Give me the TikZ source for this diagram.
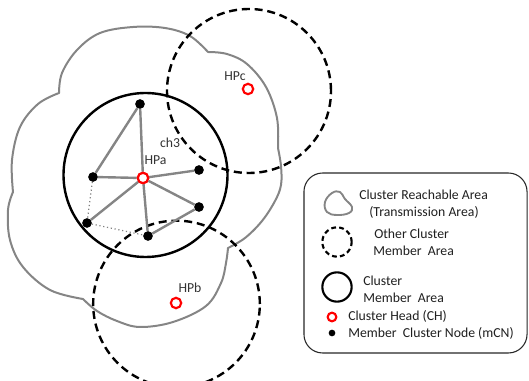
\documentclass[tikz,border=0pt]{standalone}
\usepackage{fontspec}
\setmainfont{Carlito}
\begin{document}
\begin{tikzpicture}[x=0.75pt,y=-0.75pt,
  cloudline/.style={draw=black!48, line width=1.5pt, line join=round, line cap=round},
  memberarea/.style={draw=black, line width=1.8pt, circle, inner sep=0pt},
  otherarea/.style={draw=black, line width=1.8pt, circle, inner sep=0pt, dash pattern=on 6pt off 3.6pt},
  headnode/.style={draw=red, line width=1.6pt, circle, fill=white, minimum size=7.8pt, inner sep=0pt},
  membernode/.style={fill=black, circle, minimum size=7pt, inner sep=0pt},
  link/.style={draw=black!48, line width=1.8pt},
  weaklink/.style={draw=black!50, line width=0.9pt, dotted},
  lbl/.style={text=black!80, font=\fontsize{10.3}{12}\selectfont, inner sep=0pt},
  legtext/.style={text=black!88, font=\fontsize{10.3}{12}\selectfont, inner sep=0pt}
]
\useasboundingbox (0,0) rectangle (529,381);
% cloud (cluster reachable area)
\draw[cloudline] plot[smooth,tension=0.6] coordinates {(59,93) (62,73) (77,50) (100,33) (133,27) (165,28) (190,36) (208,52)};
\draw[cloudline] plot[smooth,tension=0.6] coordinates {(208,52) (227,54) (247,64) (266,87) (277,118) (278,148)};
\draw[cloudline] plot[smooth,tension=0.6] coordinates {(278,148) (281,166) (281,185) (275,201) (262,221) (245,238) (228,248)};
\draw[cloudline] plot[smooth,tension=0.6] coordinates {(228,248) (226,263) (221,283) (206,306) (173,322) (140,327) (117,321) (97,311) (83,299)};
\draw[cloudline] plot[smooth,tension=0.6] coordinates {(83,299) (50,290) (23,267) (10,240) (8,210) (13,192)};
\draw[cloudline] plot[smooth,tension=0.6] coordinates {(13,192) (12,160) (20,127) (38,104) (59,93)};
% areas
\node[memberarea, minimum size=123pt] (cma) at (145.5,175) {};
\node[otherarea, minimum size=123pt] (oca) at (249,91) {};
\node[otherarea, minimum size=125pt] (ocb) at (176.5,304) {};
% nodes
\node[headnode] (hpa) at (143,178) {};
\node[headnode] (hpc) at (248,89) {};
\node[headnode] (hpb) at (176,303) {};
\node[membernode] (m1) at (140,104) {};
\node[membernode] (m2) at (93,177) {};
\node[membernode] (m3) at (199,170) {};
\node[membernode] (m4) at (199,207) {};
\node[membernode] (m5) at (87,223) {};
\node[membernode] (m6) at (148,236) {};
% links
\draw[link] (hpa) -- (m1);
\draw[link] (hpa) -- (m2);
\draw[link] (hpa) -- (m3);
\draw[link] (hpa) -- (m4);
\draw[link] (hpa) -- (m5);
\draw[link] (hpa) -- (m6);
\draw[link] (m2) -- (m1);
\draw[link] (m6) -- (m4);
\draw[weaklink] (m2) -- (m5);
\draw[weaklink] (m5) -- (m6);
% labels
\node[lbl] (lhpc) at (235,76) {HPc};
\node[lbl] (lhpa) at (155.5,160) {HPa};
\node[lbl] (lch3) at (170,143) {ch3};
\node[lbl] (lhpb) at (190,288) {HPb};
% legend
\node[draw=black!85, line width=0.8pt, rounded corners=14pt, minimum width=167.3pt, minimum height=135pt, inner sep=0pt] (legend) at (415.5,263) {};
\draw[cloudline, line width=1.4pt] plot[smooth cycle,tension=0.7] coordinates {(332,193) (340,192) (345,199) (352,207) (349,213) (337,215) (327,212) (325,202)};
\node[legtext, anchor=west] (t1) at (359,195) {Cluster Reachable Area};
\node[legtext] (t2) at (424,212) {(Transmission Area)};
\node[otherarea, line width=1.6pt, minimum size=22pt, dash pattern=on 3.6pt off 2.4pt] (i2) at (337,242) {};
\node[legtext, anchor=west] (t3) at (374,234) {Other Cluster};
\node[legtext, anchor=west] (t4) at (373,251) {Member\ \ Area};
\node[memberarea, line width=1.6pt, minimum size=22pt] (i3) at (337,287) {};
\node[legtext, anchor=west] (t5) at (363,281) {Cluster};
\node[legtext, anchor=west] (t6) at (363,298) {Member\ \ Area};
\node[headnode, minimum size=6.5pt] (i4) at (332,317) {};
\node[legtext, anchor=west] (t7) at (348,316) {Cluster Head (CH)};
\node[membernode, minimum size=5pt] (i5) at (332,333) {};
\node[legtext, anchor=west] (t8) at (348,333) {Member\ \ Cluster Node (mCN)};
% nodes again on top of the links
\node[headnode] at (hpa) {};
\foreach \m in {m1,m2,m3,m4,m5,m6} \node[membernode] at (\m) {};
\end{tikzpicture}
\end{document}
